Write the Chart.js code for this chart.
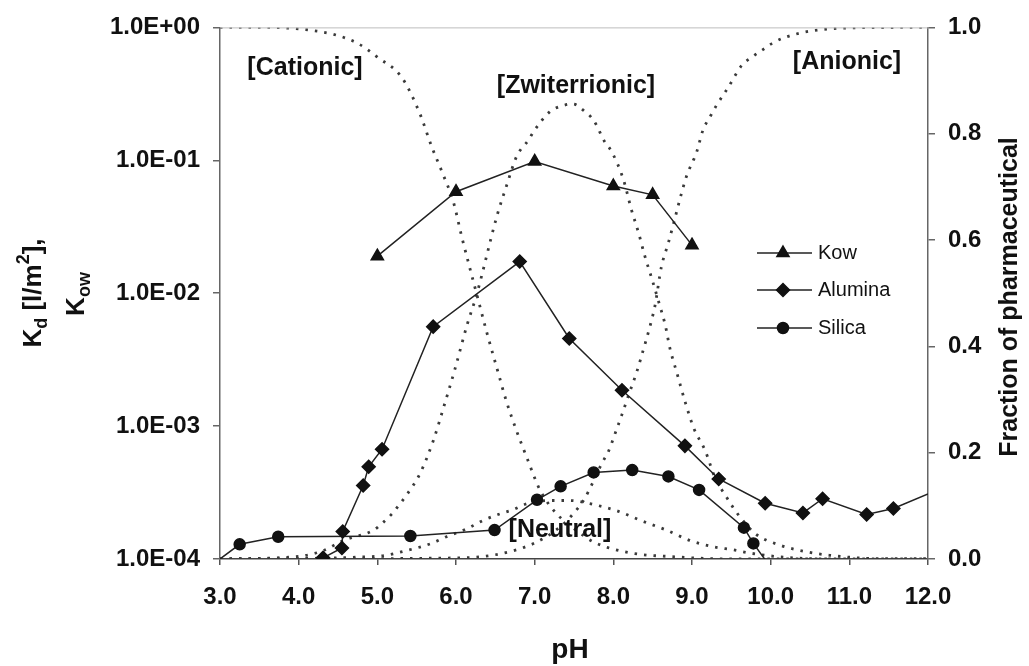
<!DOCTYPE html>
<html>
<head>
<meta charset="utf-8">
<script src="https://cdn.jsdelivr.net/npm/chart.js@4.4.1/dist/chart.umd.min.js"></script>
<style>
body{margin:0;background:#fff}
#box{width:1029px;height:666px}
</style>
</head>
<body>
<div id="box"><canvas id="grafico"></canvas></div>
<script>

// pH axis ticks
let phTicks=[3,4,5,6,7,8,9,10,11,12]
let phTickLabels=['3.0','4.0','5.0','6.0','7.0','8.0','9.0','10.0','11.0','12.0']

// left log axis
let logTicks=[1e-4,1e-3,1e-2,1e-1,1]
let logTickLabels=['1.0E-04','1.0E-03','1.0E-02','1.0E-01','1.0E+00']

// right axis
let fracTicks=[0,0.2,0.4,0.6,0.8,1]
let fracTickLabels=['0.0','0.2','0.4','0.6','0.8','1.0']

// Kow
let kowPH=[5.0,6.0,7.0,8.0,8.5,9.0]
let kowVal=[0.019,0.058,0.098,0.064,0.055,0.023]

// Alumina Kd
let aluminaPH=[4.31,4.55,4.56,4.82,4.89,5.06,5.71,6.81,7.44,8.11,8.91,9.34,9.93,10.41,10.66,11.22,11.56,12.0]
let aluminaVal=[1.02e-4,1.21e-4,1.61e-4,3.57e-4,4.94e-4,6.7e-4,5.6e-3,1.73e-2,4.56e-3,1.86e-3,7.1e-4,4.0e-4,2.63e-4,2.22e-4,2.84e-4,2.16e-4,2.4e-4,3.09e-4]

// Silica Kd
let silicaPH=[3.0,3.25,3.74,5.42,6.49,7.03,7.33,7.75,8.24,8.70,9.09,9.66,9.78,9.95]
let silicaVal=[1.0e-4,1.29e-4,1.47e-4,1.49e-4,1.65e-4,2.79e-4,3.52e-4,4.48e-4,4.67e-4,4.18e-4,3.31e-4,1.72e-4,1.31e-4,0.95e-4]

// species fractions (dotted)
let cationicPH=[3.0,3.6,4.0,4.44,4.75,5.0,5.31,5.54,5.69,5.82,5.97,6.07,6.18,6.28,6.39,6.52,6.64,6.77,6.90,7.07,7.28,7.53,7.75,8.2,8.8,9.5,12.0]
let cationicFrac=[1.0,1.0,0.997,0.987,0.97,0.944,0.906,0.838,0.776,0.729,0.67,0.608,0.545,0.489,0.427,0.359,0.297,0.241,0.191,0.129,0.085,0.054,0.032,0.012,0.004,0.0,0.0]

let zwitterPH=[3.0,4.0,4.3,4.57,4.95,5.06,5.18,5.29,5.37,5.54,5.71,5.84,5.99,6.14,6.26,6.52,6.64,6.77,6.92,7.0,7.19,7.36,7.49,7.62,7.75,7.89,7.98,8.13,8.23,8.32,8.40,8.49,8.59,8.66,8.72,8.81,8.91,9.02,9.17,9.29,9.44,9.61,9.82,10.12,10.44,10.75,11.5,12.0]
let zwitterFrac=[0.0,0.005,0.015,0.035,0.054,0.067,0.084,0.104,0.12,0.16,0.222,0.284,0.359,0.44,0.496,0.645,0.701,0.757,0.788,0.807,0.841,0.853,0.856,0.844,0.825,0.785,0.766,0.713,0.657,0.614,0.57,0.527,0.477,0.44,0.396,0.349,0.297,0.247,0.203,0.154,0.116,0.079,0.046,0.026,0.014,0.007,0.0,0.0]

let anionicPH=[3.0,6.0,6.5,7.0,7.32,7.49,7.62,7.75,7.85,7.94,8.02,8.11,8.21,8.30,8.38,8.47,8.53,8.61,8.70,8.78,8.85,8.93,9.06,9.14,9.23,9.31,9.46,9.63,9.78,9.91,10.03,10.18,10.5,11.0,12.0]
let anionicFrac=[0.0,0.002,0.008,0.03,0.06,0.085,0.11,0.147,0.179,0.203,0.235,0.272,0.315,0.353,0.393,0.44,0.477,0.549,0.595,0.639,0.679,0.72,0.766,0.807,0.832,0.853,0.887,0.928,0.946,0.959,0.971,0.981,0.993,0.999,1.0]

let neutralPH=[3.0,5.0,5.4,5.7,5.88,6.14,6.35,6.56,6.73,6.9,7.19,7.45,7.7,8.04,8.34,8.68,8.97,9.27,9.53,9.74,10.2,11.0,12.0]
let neutralFrac=[0.0,0.005,0.017,0.03,0.042,0.057,0.073,0.085,0.093,0.104,0.11,0.11,0.104,0.091,0.073,0.054,0.035,0.023,0.017,0.011,0.003,0.0,0.0]

const FONTE='"Liberation Sans", Arial, sans-serif'
const LINHA='#222'
const PONTILHADO='#3a3a3a'

function pares(xs,ys){
return xs.map((x,i)=>({x:x,y:ys[i]}))
}

function serieSolida(label,xs,ys,estilo,raio,semPonto){
return{
label:label,
data:pares(xs,ys),
yAxisID:'y',
borderColor:LINHA,
backgroundColor:'#111',
borderWidth:1.5,
pointStyle:estilo,
pointRadius:xs.map((x,i)=>semPonto.includes(i)?0:raio),
pointBorderColor:'#111',
pointBackgroundColor:'#111',
tension:0
}
}

function seriePontilhada(label,xs,ys){
return{
label:label,
data:pares(xs,ys),
yAxisID:'y2',
borderColor:PONTILHADO,
borderWidth:2.8,
borderDash:[2.5,7],
pointRadius:0,
cubicInterpolationMode:'monotone'
}
}

function textoRico(ctx,partes,cx,cy,rot){
ctx.save()
ctx.translate(cx,cy)
ctx.rotate(rot)
let w=0
partes.forEach(p=>{ctx.font=p.f;w+=ctx.measureText(p.t).width})
let x=-w/2
ctx.textBaseline='alphabetic'
ctx.textAlign='left'
partes.forEach(p=>{
ctx.font=p.f
ctx.fillText(p.t,x,p.dy)
x+=ctx.measureText(p.t).width
})
ctx.restore()
}

const extras={
id:'extras',
afterDraw(chart){
let ctx=chart.ctx
let a=chart.chartArea
ctx.save()

// top frame line
ctx.strokeStyle='#bdbdbd'
ctx.lineWidth=1
ctx.beginPath()
ctx.moveTo(a.left,a.top+0.5)
ctx.lineTo(a.right,a.top+0.5)
ctx.stroke()

ctx.fillStyle='#111'
ctx.textAlign='center'
ctx.textBaseline='middle'

// species labels
ctx.font='bold 25px '+FONTE
ctx.fillText('[Cationic]',305,68)
ctx.fillText('[Zwiterrionic]',576,86)
ctx.fillText('[Anionic]',847,62)
ctx.fillText('[Neutral]',560,530)

// x title
ctx.font='bold 28px '+FONTE
ctx.fillText('pH',570,650)

// right title
ctx.save()
ctx.translate(1010,297)
ctx.rotate(-Math.PI/2)
ctx.font='bold 25px '+FONTE
ctx.fillText('Fraction of pharmaceutical',0,0)
ctx.restore()

// left title, two lines
let g='bold 26px '+FONTE
let p='bold 18px '+FONTE
textoRico(ctx,[
{t:'K',f:g,dy:9},
{t:'d',f:p,dy:15},
{t:' [l/m',f:g,dy:9},
{t:'2',f:p,dy:-3},
{t:'],',f:g,dy:9}
],32,293,-Math.PI/2)
textoRico(ctx,[
{t:'K',f:g,dy:9},
{t:'ow',f:p,dy:15}
],75,294,-Math.PI/2)

// legend
let itens=[
{n:'Kow',s:'triangle',r:7,y:253},
{n:'Alumina',s:'rectRot',r:6.5,y:290},
{n:'Silica',s:'circle',r:5.5,y:328}
]
itens.forEach(it=>{
ctx.strokeStyle=LINHA
ctx.lineWidth=1.5
ctx.beginPath()
ctx.moveTo(757,it.y)
ctx.lineTo(812,it.y)
ctx.stroke()
ctx.fillStyle='#111'
ctx.strokeStyle='#111'
Chart.helpers.drawPoint(ctx,{pointStyle:it.s,radius:it.r,rotation:0,borderWidth:1},783,it.y)
ctx.font='20px '+FONTE
ctx.textAlign='left'
ctx.textBaseline='middle'
ctx.fillText(it.n,818,it.y)
})

ctx.restore()
}
}

new Chart(document.getElementById('grafico'),{
type:'line',
data:{
datasets:[
serieSolida('Kow',kowPH,kowVal,'triangle',7,[]),
serieSolida('Alumina',aluminaPH,aluminaVal,'rectRot',6.5,[aluminaPH.length-1]),
serieSolida('Silica',silicaPH,silicaVal,'circle',5.5,[0,silicaPH.length-1]),
seriePontilhada('Cationic',cationicPH,cationicFrac),
seriePontilhada('Zwitterionic',zwitterPH,zwitterFrac),
seriePontilhada('Anionic',anionicPH,anionicFrac),
seriePontilhada('Neutral',neutralPH,neutralFrac)
]
},
options:{
responsive:true,
maintainAspectRatio:false,
animation:false,
layout:{padding:{top:23,left:0,right:0,bottom:0}},
plugins:{
legend:{display:false},
tooltip:{enabled:false}
},
scales:{
x:{
type:'linear',
min:3,
max:12,
afterBuildTicks:s=>{s.ticks=phTicks.map(v=>({value:v}))},
afterFit:s=>{s.height=107},
ticks:{
callback:(v,i)=>phTickLabels[i],
color:'#111',
font:{family:FONTE,size:24,weight:'bold'},
padding:18,
maxRotation:0
},
grid:{drawOnChartArea:false,color:'#555',tickLength:6,lineWidth:1.5},
border:{color:'#444',width:1.5}
},
y:{
type:'logarithmic',
position:'left',
min:1e-4,
max:1,
afterBuildTicks:s=>{s.ticks=logTicks.map(v=>({value:v}))},
afterFit:s=>{s.width=220},
ticks:{
callback:(v,i)=>logTickLabels[i],
color:'#111',
font:{family:FONTE,size:24,weight:'bold'},
padding:13
},
grid:{drawOnChartArea:false,color:'#666',tickLength:7,lineWidth:1.5},
border:{color:'#666',width:1.5}
},
y2:{
type:'linear',
position:'right',
min:0,
max:1,
afterBuildTicks:s=>{s.ticks=fracTicks.map(v=>({value:v}))},
afterFit:s=>{s.width=101},
ticks:{
callback:(v,i)=>fracTickLabels[i],
color:'#111',
font:{family:FONTE,size:24,weight:'bold'},
padding:13
},
grid:{drawOnChartArea:false,color:'#666',tickLength:7,lineWidth:1.5},
border:{color:'#666',width:1.5}
}
}
},
plugins:[extras]
})

</script>
</body>
</html>
